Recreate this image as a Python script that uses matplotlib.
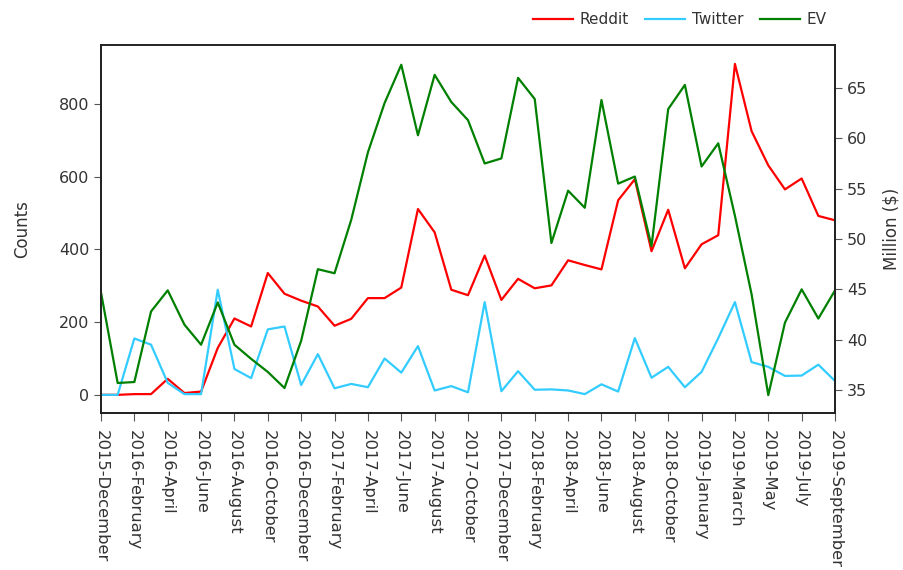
import matplotlib
matplotlib.use("Agg")
import matplotlib.pyplot as plt

# 数据: 月份, Reddit/Twitter 计数, EV (百万美元)
months = ['2015-December', '2016-January', '2016-February', '2016-March', '2016-April',
          '2016-May', '2016-June', '2016-July', '2016-August', '2016-September',
          '2016-October', '2016-November', '2016-December', '2017-January', '2017-February',
          '2017-March', '2017-April', '2017-May', '2017-June', '2017-July',
          '2017-August', '2017-September', '2017-October', '2017-November', '2017-December',
          '2018-January', '2018-February', '2018-March', '2018-April', '2018-May',
          '2018-June', '2018-July', '2018-August', '2018-September', '2018-October',
          '2018-November', '2019-January', '2019-February', '2019-March', '2019-April',
          '2019-May', '2019-June', '2019-July', '2019-August', '2019-September']

reddit = [0, 0, 2, 2, 44, 5, 9, 129, 210, 188,
          335, 278, 259, 243, 190, 209, 266, 266, 295, 511,
          447, 289, 274, 383, 261, 319, 293, 301, 370, 357,
          345, 535, 593, 395, 509, 348, 414, 439, 910, 725,
          631, 565, 595, 492, 480]

twitter = [0, 0, 155, 138, 33, 2, 2, 289, 71, 46,
           180, 188, 27, 112, 18, 30, 21, 100, 61, 134,
           12, 24, 7, 255, 10, 65, 14, 15, 12, 2,
           29, 9, 156, 47, 77, 21, 63, 156, 255, 90,
           77, 52, 53, 83, 38]

ev = [44.7, 35.7, 35.8, 42.8, 44.9, 41.5, 39.5, 43.7, 39.5, 38.1,
      36.8, 35.2, 39.9, 47.0, 46.6, 51.9, 58.6, 63.5, 67.3, 60.3,
      66.3, 63.6, 61.8, 57.5, 58.0, 66.0, 63.9, 49.6, 54.8, 53.1,
      63.8, 55.5, 56.2, 49.3, 62.9, 65.3, 57.2, 59.5, 52.3, 44.5,
      34.5, 41.7, 45.0, 42.1, 44.9]

plt.rcParams['font.family'] = ['DejaVu Sans']
txt = '#333333'

fig = plt.figure(figsize=(9.04, 5.7), dpi=100)
ax = fig.add_axes([0.1117, 0.2754, 0.812, 0.6456])
ax2 = ax.twinx()

x = list(range(len(months)))
l1, = ax.plot(x, reddit, color='#ff0000', lw=1.6, label='Reddit')
l2, = ax.plot(x, twitter, color='#33ccff', lw=1.6, label='Twitter')
l3, = ax2.plot(x, ev, color='#008000', lw=1.6, label='EV')

ax.set_xlim(0, len(months) - 1)
ax.set_ylim(-50, 962)
ax2.set_ylim(32.72, 69.26)
ax.set_yticks([0, 200, 400, 600, 800])
ax2.set_yticks([35, 40, 45, 50, 55, 60, 65])

ax.set_xticks(x[::2])
ax.set_xticklabels(months[::2], rotation=-90, fontsize=11.8, color=txt)
ax.tick_params(axis='y', labelsize=11.5, labelcolor=txt, color='#555555', length=5)
ax.tick_params(axis='x', color='#555555', length=6, pad=6)
ax2.tick_params(axis='y', labelsize=11.5, labelcolor=txt, color='#555555', length=5)

ax.set_ylabel('Counts', fontsize=12, color=txt, labelpad=20)
ax2.set_ylabel('Million ($)', fontsize=12, color=txt, labelpad=11)

for a in (ax, ax2):
    for s in a.spines.values():
        s.set_color('#222222')
        s.set_linewidth(1.3)
ax.spines['top'].set_color('#555555')

fig.legend(handles=[l1, l2, l3], loc='center right', bbox_to_anchor=(0.93, 0.966),
           ncol=3, frameon=False, fontsize=11, handlelength=2.6, columnspacing=1.1,
           handletextpad=0.45, labelcolor=txt)

fig.savefig('out.png', dpi=100)
